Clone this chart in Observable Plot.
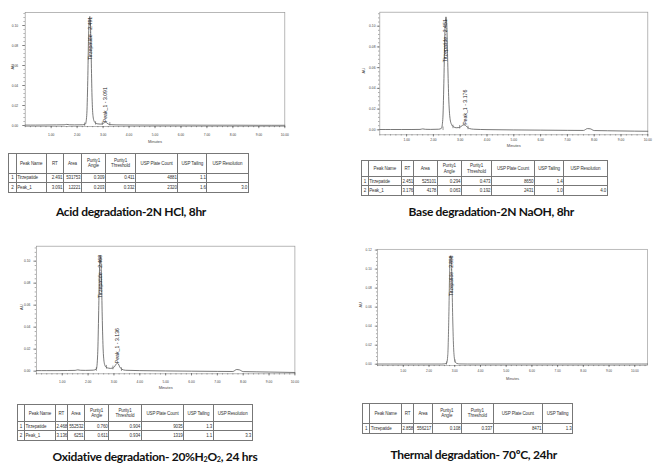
<!DOCTYPE html>
<html><head><meta charset="utf-8">
<script src="https://cdn.jsdelivr.net/npm/d3@7"></script>
<script src="https://cdn.jsdelivr.net/npm/@observablehq/plot@0.6"></script>
<style>
html,body{margin:0;padding:0;background:#fff;}
#fig{position:relative;width:655px;height:464px;overflow:hidden;background:#fff;}
.panel{position:absolute;}
table.res{position:absolute;border-collapse:collapse;table-layout:fixed;font-family:"Liberation Sans",Arial,sans-serif;font-size:4.5px;color:#333;letter-spacing:-0.12px;}
table.res td{border:0.7px solid #777;padding:0 0.5px;overflow:visible;white-space:nowrap;line-height:1.15;vertical-align:middle;}
.cap{position:absolute;transform:translate(-50%,-50%);font-family:Lato,sans-serif;font-weight:700;font-size:12px;white-space:nowrap;color:#111;letter-spacing:-0.3px;}
.cap sub{font-size:0.6em;vertical-align:-0.25em;line-height:0;}
</style></head><body><div id="fig"></div>
<script>
// ---------------- DATA ----------------
// Acid degradation chromatogram (minutes, AU)
const acidTime = [0.0,0.4,0.8,1.2,1.5,1.6,1.7,1.9,2.2,2.32,2.37,2.41,2.44,2.47,2.49,2.51,2.54,2.57,2.61,2.66,2.72,2.8,2.9,2.98,3.04,3.09,3.14,3.2,3.3,3.5,4.0,5.0,6.0,7.0,8.0,9.0,10.0];
const acidAU   = [0.0004,0.0004,0.0005,0.0006,0.0007,0.0011,0.0007,0.0006,0.0007,0.0015,0.010,0.045,0.088,0.106,0.109,0.103,0.072,0.033,0.010,0.004,0.0022,0.0016,0.0014,0.0018,0.0027,0.0032,0.0027,0.0015,0.0008,0.0006,0.0005,0.0004,0.0004,0.0003,0.0003,0.0002,0.0002];
const acidPeakNames = ["Tirzepatide","Peak_1"];
const acidPeakRT    = [2.491, 3.091];
const acidPeakApex  = [0.109, 0.0032];
const acidBoundT    = [2.29, 2.71, 2.97, 3.26];
const acidBoundAU   = [0.0008, 0.0021, 0.0017, 0.0012];

// Base degradation
const baseTime = [0,0.4,0.8,1.2,1.5,1.6,1.7,1.9,2.2,2.3,2.35,2.39,2.42,2.45,2.47,2.5,2.53,2.57,2.62,2.68,2.75,2.85,2.95,3.02,3.08,3.14,3.18,3.22,3.28,3.35,3.5,4,5,6,7,7.6,7.75,7.85,8.0,8.5,9,10];
const baseAU   = [0.0003,0.0003,0.0003,0.0003,0.0004,0.0009,0.0005,0.0004,0.0006,0.0015,0.010,0.045,0.085,0.106,0.109,0.100,0.07,0.032,0.011,0.005,0.003,0.002,0.0022,0.003,0.0042,0.0048,0.0046,0.0038,0.0022,0.0012,0.0006,0.0002,-0.0001,-0.0003,-0.0005,-0.0006,0.0012,0.0010,-0.0007,-0.0009,-0.0011,-0.0014];
const basePeakNames = ["Tirzepatide","Peak_1"];
const basePeakRT    = [2.451, 3.176];
const basePeakApex  = [0.107, 0.0048];
const baseBoundT    = [2.36, 2.73, 2.98, 3.29];
const baseBoundAU   = [0.001, 0.0028, 0.0025, 0.0018];

// Oxidative degradation
const oxTime = [0,0.4,0.8,1.2,1.5,1.6,1.7,1.9,2.2,2.32,2.37,2.41,2.44,2.47,2.49,2.52,2.55,2.59,2.64,2.7,2.78,2.86,2.95,3.02,3.08,3.13,3.17,3.22,3.3,3.45,4,5,6,7,7.6,7.75,7.85,8.0,8.5,9,10];
const oxAU   = [0.0005,0.0005,0.0005,0.0006,0.0007,0.0012,0.0008,0.0007,0.0009,0.002,0.015,0.055,0.092,0.105,0.103,0.082,0.046,0.016,0.006,0.0035,0.0028,0.0025,0.0028,0.004,0.0062,0.0072,0.0066,0.004,0.0018,0.0008,0.0005,0.0002,0,-0.0002,-0.0003,0.0015,0.0012,-0.0004,-0.0006,-0.0008,-0.0012];
const oxPeakNames = ["Tirzepatide","Peak_1"];
const oxPeakRT    = [2.468, 3.136];
const oxPeakApex  = [0.106, 0.0072];
const oxBoundT    = [2.32, 2.71, 2.96, 3.29];
const oxBoundAU   = [0.0015, 0.0035, 0.0029, 0.0014];

// Thermal degradation
const thTime = [0,0.5,1,1.5,2,2.5,2.68,2.73,2.77,2.8,2.83,2.86,2.89,2.92,2.96,3.01,3.08,3.2,3.5,4,5,6,7,8,9,10,10.5];
const thAU   = [0.0002,0.0002,0.0002,0.0002,0.0002,0.0002,0.0008,0.01,0.05,0.095,0.114,0.113,0.09,0.05,0.015,0.003,0.0008,0.0003,0.0002,0.0002,0.0002,0.0002,0.0002,0.0002,0.0002,0.0002,0.0002];
const thPeakNames = ["Tirzepatide"];
const thPeakRT    = [2.858];
const thPeakApex  = [0.1145];
const thBoundT    = [2.68, 3.01];
const thBoundAU   = [0.0008, 0.003];

// Axis ticks
const xTickValues = [1,2,3,4,5,6,7,8,9,10];
const yTickValues = [0,0.02,0.04,0.06,0.08,0.10];
const yTickValuesThermal = [0,0.02,0.04,0.06,0.08,0.10,0.12];

// Result tables
const tableHeaders = ["", "Peak Name", "RT", "Area", "Purity1\nAngle", "Purity1\nThreshold", "USP Plate Count", "USP Tailing", "USP Resolution"];
const acidRows = [["1","Tirzepatide","2.491","531753","0.309","0.411","4881","1.1",""],
                  ["2","Peak_1","3.091","12221","0.203","0.332","2320","1.6","3.0"]];
const baseRows = [["1","Tirzepatide","2.451","525101","0.294","0.473","8650","1.4",""],
                  ["2","Peak_1","3.176","4178","0.063","0.192","2431","1.0","4.0"]];
const oxRows   = [["1","Tirzepatide","2.468","552532","0.760","0.904","9035","1.3",""],
                  ["2","Peak_1","3.136","6251","0.611","0.934","1319","1.1","3.3"]];
const thRows   = [["1","Tirzepatide","2.858","556217","0.108","0.337","8471","1.3"]];

// Captions
const captions = ["Acid degradation-2N HCl, 8hr",
                  "Base degradation-2N NaOH, 8hr",
                  "Oxidative degradation- 20%H<sub>2</sub>O<sub>2</sub>, 24 hrs",
                  "Thermal degradation- 70ºC, 24hr"];

// ---------------- DRAWING ----------------
const fig = document.getElementById("fig");

function chromatogram(time, au, names, rts, apex, bT, bA, yTicks, L) {
  const trace = time.map((t, i) => ({t, v: au[i]}));
  const peaks = names.map((n, i) => ({name: n, rt: rts[i], apex: apex[i]}));
  const bounds = bT.map((t, i) => ({t, b: bA[i]}));
  const xMinor = d3.range(0, L.xmax + 1e-9, 0.2).map(v => +v.toFixed(2));
  const yMinor = d3.range(0, L.ymax, 0.004).map(v => +v.toFixed(3));
  const fmt = d => d.toFixed(2);
  const plot = Plot.plot({
    width: L.w, height: L.h,
    marginLeft: L.ml, marginRight: L.mr, marginTop: L.mt, marginBottom: L.mb,
    style: {fontFamily: "'Liberation Sans', Arial, sans-serif", fontSize: "3.3px", color: "#444", background: "transparent", overflow: "visible"},
    x: {domain: [0, L.xmax], label: null},
    y: {domain: [L.ymin, L.ymax], label: null},
    marks: [
      Plot.frame({stroke: "#999", strokeWidth: 0.7}),
      Plot.axisX(xMinor, {tickSize: 1.2, tickFormat: () => "", label: null, strokeWidth: 0.5}),
      Plot.axisX(xTickValues, {tickSize: 2.2, tickPadding: L.xpad, tickFormat: fmt, fontSize: 3.3, label: null, strokeWidth: 0.6}),
      Plot.axisY(yMinor, {tickSize: 1.2, tickFormat: () => "", label: null, strokeWidth: 0.5}),
      Plot.axisY(yTicks, {tickSize: 2.5, tickPadding: L.ypad, tickFormat: fmt, fontSize: 3.3, label: null, strokeWidth: 0.6}),
      Plot.text(["Minutes"], {frameAnchor: "bottom", dy: L.minDy, fontSize: 4, fill: "#444"}),
      Plot.text(["AU"], {frameAnchor: "left", dx: L.auDx, rotate: -90, fontSize: 4, fill: "#444"}),
      Plot.line(trace, {x: "t", y: "v", stroke: "#555", strokeWidth: 0.8, curve: "monotone-x"}),
      Plot.ruleX(bounds, {x: "t", y1: d => d.b - 0.0017, y2: d => d.b + 0.0017, stroke: "#555", strokeWidth: 0.6}),
      Plot.text(peaks.slice(0, 1), {x: "rt", y: "apex", text: d => `${d.name} - ${d.rt.toFixed(3)}`, rotate: -90, textAnchor: "end", fontSize: 5.2, fill: "#222", dy: 0.3}),
      Plot.text(peaks.slice(1), {x: "rt", y: "apex", text: d => `${d.name} - ${d.rt.toFixed(3)}`, rotate: -90, textAnchor: "start", fontSize: 5.2, fill: "#222"})
    ]
  });
  const wrap = document.createElement("div");
  wrap.className = "panel";
  wrap.style.left = L.left + "px";
  wrap.style.top = L.top + "px";
  wrap.appendChild(plot);
  fig.appendChild(wrap);
}

function makeTable(headers, rows, left, top, colW, rowH) {
  const tbl = document.createElement("table");
  tbl.className = "res";
  tbl.style.left = left + "px";
  tbl.style.top = top + "px";
  tbl.style.width = d3.sum(colW) + "px";
  const cg = document.createElement("colgroup");
  colW.forEach(w => { const c = document.createElement("col"); c.style.width = w + "px"; cg.appendChild(c); });
  tbl.appendChild(cg);
  const hr = document.createElement("tr");
  headers.slice(0, colW.length).forEach(h => {
    const td = document.createElement("td");
    td.innerHTML = h.replace("\n", "<br>");
    td.style.textAlign = "center";
    td.style.height = rowH[0] + "px";
    hr.appendChild(td);
  });
  tbl.appendChild(hr);
  rows.forEach((r, ri) => {
    const tr = document.createElement("tr");
    r.forEach((v, ci) => {
      const td = document.createElement("td");
      td.textContent = v;
      td.style.textAlign = ci === 0 ? "center" : ci === 1 ? "left" : "right";
      td.style.height = rowH[ri + 1] + "px";
      tr.appendChild(td);
    });
    tbl.appendChild(tr);
  });
  fig.appendChild(tbl);
}

function caption(html, cx, cy) {
  const d = document.createElement("div");
  d.className = "cap";
  d.innerHTML = html;
  d.style.left = cx + "px";
  d.style.top = cy + "px";
  fig.appendChild(d);
}

chromatogram(acidTime, acidAU, acidPeakNames, acidPeakRT, acidPeakApex, acidBoundT, acidBoundAU, yTickValues,
  {left: 0, top: 0, w: 300, h: 150, ml: 24.7, mr: 15.7, mt: 12, mb: 24, xmax: 10, ymin: -0.001, ymax: 0.113, xpad: 5.2, ypad: 4.5, minDy: 16, auDx: -12});
chromatogram(baseTime, baseAU, basePeakNames, basePeakRT, basePeakApex, baseBoundT, baseBoundAU, yTickValues,
  {left: 330, top: 0, w: 325, h: 155, ml: 49.3, mr: 7.7, mt: 11.7, mb: 20.7, xmax: 10, ymin: -0.0048, ymax: 0.1135, xpad: 1.4, ypad: 1.8, minDy: 11.7, auDx: -16});
chromatogram(oxTime, oxAU, oxPeakNames, oxPeakRT, oxPeakApex, oxBoundT, oxBoundAU, yTickValues,
  {left: 0, top: 230, w: 310, h: 165, ml: 35.9, mr: 15.6, mt: 15.7, mb: 21.7, xmax: 10, ymin: -0.0024, ymax: 0.1136, xpad: 4.6, ypad: 3.5, minDy: 15, auDx: -15});
chromatogram(thTime, thAU, thPeakNames, thPeakRT, thPeakApex, thBoundT, thBoundAU, yTickValuesThermal,
  {left: 330, top: 230, w: 345, h: 165, ml: 50, mr: 8.3, mt: 20, mb: 21.7, xmax: 10.5, ymin: -0.0013, ymax: 0.1208, xpad: 1.9, ypad: 3.8, minDy: 15.7, auDx: -17.7});

makeTable(tableHeaders, acidRows, 8, 153.3, [7.7, 30, 17.3, 18, 24, 30, 42.3, 29, 41.4], [18.4, 8.6, 9]);
makeTable(tableHeaders, baseRows, 361, 160, [6.7, 33.3, 11.7, 24, 24.3, 30, 43, 29.3, 43.4], [15, 8.3, 8.4]);
makeTable(tableHeaders, oxRows, 16.7, 404.3, [7.3, 31, 11.7, 17.3, 24.3, 32.4, 42.6, 29.4, 39], [15.7, 8.3, 9]);
makeTable(tableHeaders, thRows, 362.3, 403.3, [7, 31.7, 12.3, 18.4, 29.3, 31.7, 49.3, 30.3], [18.4, 9.3]);

caption(captions[0], 131, 211);
caption(captions[1], 491.3, 211);
caption(captions[2], 155, 455.5);
caption(captions[3], 473.7, 454);
</script></body></html>
